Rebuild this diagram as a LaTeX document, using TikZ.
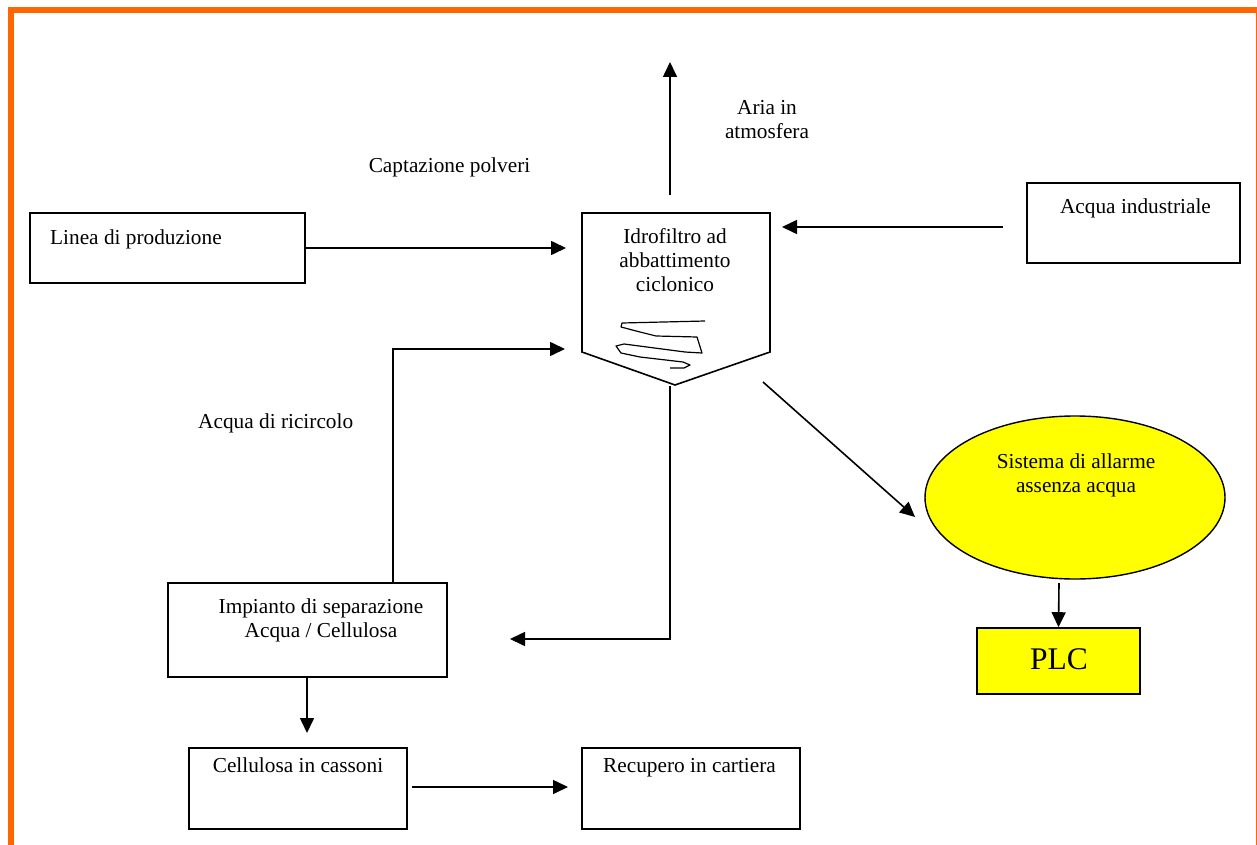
\documentclass[tikz,border=0pt]{standalone}
\usepackage{fontspec}
\setmainfont{Liberation Serif}
\usetikzlibrary{arrows.meta,shapes.geometric}
\definecolor{frameorange}{HTML}{FF6600}
\definecolor{alarmyellow}{HTML}{FFFF00}
\newcommand{\lines}[1]{\begin{tabular}[t]{@{}c@{}}#1\end{tabular}}
\begin{document}
\begin{tikzpicture}[x=1pt,y=-1pt,
  box/.style={draw, line width=1.6pt, inner sep=0pt, rectangle},
  lbl/.style={inner sep=0pt, anchor=base, font=\fontsize{21.3}{24}\selectfont},
  lblw/.style={lbl, anchor=base west},
  arr/.style={line width=1.6pt, -{Triangle[length=15pt,width=14pt]}},
  ln/.style={line width=1.6pt}]
\useasboundingbox (0,0) rectangle (1257,845);

% outer frame
\draw[frameorange, line width=6pt] (11,10) rectangle (1259,870);

% boxes
\node[box, minimum width=275pt, minimum height=70pt] (linea) at (167.5,248) {};
\node[box, minimum width=213pt, minimum height=80pt] (acqua) at (1133.5,223) {};
\node[box, minimum width=279pt, minimum height=94pt] (impianto) at (307.5,630) {};
\node[box, minimum width=218pt, minimum height=81pt] (cellulosa) at (298,788.5) {};
\node[box, minimum width=218pt, minimum height=81pt] (recupero) at (691,788.5) {};
\node[box, fill=alarmyellow, minimum width=163pt, minimum height=66pt] (plc) at (1058.5,661) {};
\node[draw, ellipse, line width=1.4pt, fill=alarmyellow, inner sep=0pt,
      minimum width=300pt, minimum height=163pt] (allarme) at (1075,497.5) {};

% cyclone filter housing
\draw[line width=1.6pt, line join=miter]
  (582,213) -- (770,213) -- (770,352) -- (675,385) -- (582,352) -- cycle;
\draw[line width=1.2pt, line join=round]
  (705,321) -- (622,323) -- (621,327) -- (640,332) -- (656,336) -- (697,337)
  -- (702,353) -- (685,352) -- (624,344) -- (616,346) -- (621,353) -- (640,357)
  -- (683,362) -- (690,365) -- (684,368) -- (670,368);

% texts
\node[lblw] (tlinea) at (50,244) {Linea di produzione};
\node[lbl] (tacqua) at (1135.5,213) {Acqua industriale};
\node[lbl] (tidro) at (675,243) {\lines{Idrofiltro ad\\abbattimento\\ciclonico}};
\node[lbl] (timp) at (321,613) {\lines{Impianto di separazione\\Acqua / Cellulosa}};
\node[lbl] (tcell) at (298,772) {Cellulosa in cassoni};
\node[lblw] (trec) at (603,772) {Recupero in cartiera};
\node[lbl] (tall) at (1076,468) {\lines{Sistema di allarme\\assenza acqua}};
\node[lbl, font=\fontsize{31.5}{36}\selectfont] (tplc) at (1059,669) {PLC};
\node[lbl] (taria) at (767,115) {\lines{Aria in\\atmosfera}};
\node[lbl] (tcapt) at (449.5,173) {Captazione polveri};
\node[lblw] (tric) at (198,428) {Acqua di ricircolo};

% connector end points
\coordinate (idroIn) at (566,248);
\coordinate (acquaOut) at (1003,227);
\coordinate (idroWater) at (782,227);
\coordinate (airFrom) at (670,195);
\coordinate (airTo) at (670,62);
\coordinate (idroBottom) at (670,386);
\coordinate (sepIn) at (510,639);
\coordinate (recIn) at (565,349);
\coordinate (sepOut) at (307,733);
\coordinate (recupIn) at (568,787);
\coordinate (idroSide) at (763,382);
\coordinate (alarmIn) at (915,517);
\coordinate (alarmOut) at (1059,583);

% connectors
\draw[arr] (linea.east |- idroIn) -- (idroIn);
\draw[arr] (acquaOut) -- (idroWater);
\draw[arr] (airFrom) -- (airTo);
\draw[arr] (idroBottom) |- (sepIn);
\draw[arr] (impianto.north -| 393,0) |- (recIn);
\draw[arr] (impianto.south -| sepOut) -- (sepOut);
\draw[arr] (cellulosa.east |- recupIn) ++(4,0) -- (recupIn);
\draw[arr] (idroSide) -- (alarmIn);
\draw[arr] (alarmOut) -- (plc.north);
\end{tikzpicture}
\end{document}
